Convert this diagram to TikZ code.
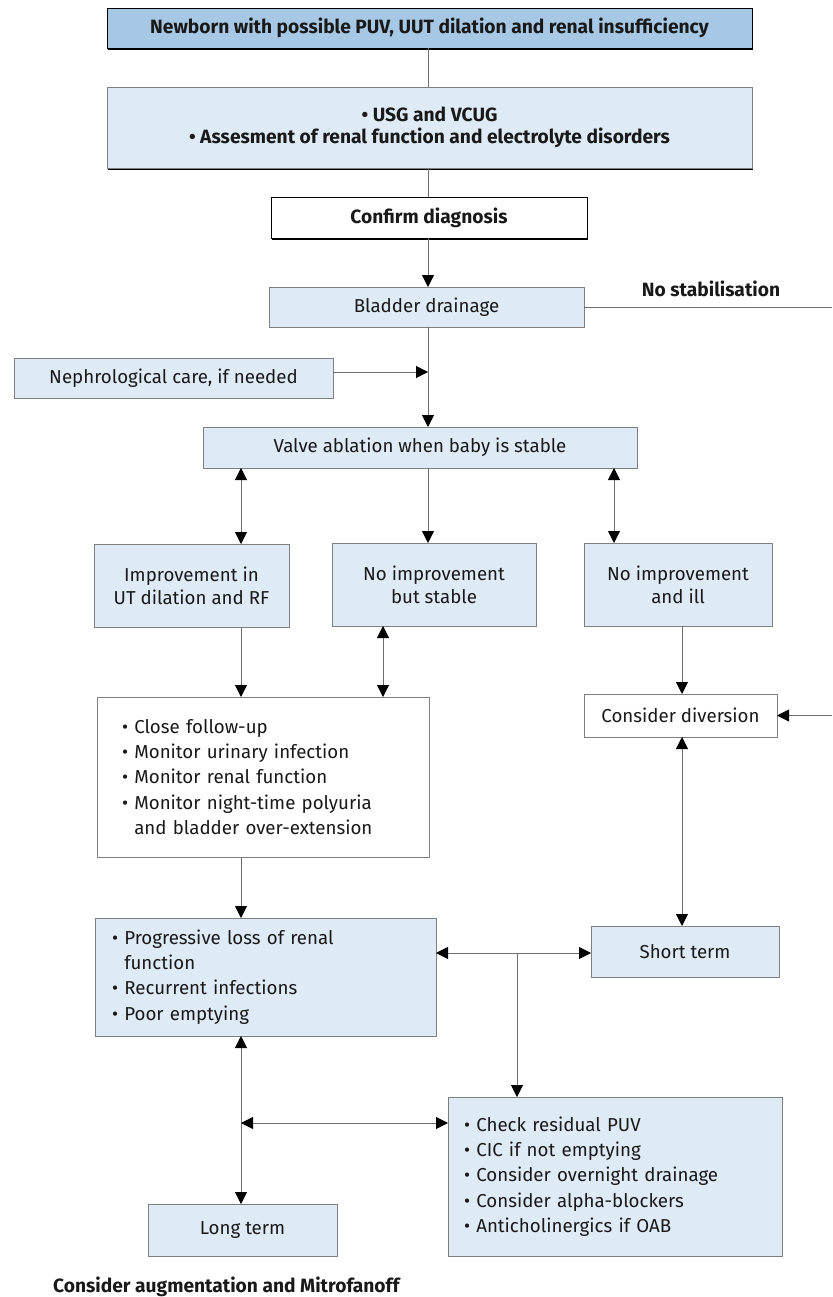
\documentclass[tikz,border=0pt]{standalone}
\usepackage{fontspec}
\setmainfont{Fira Sans}
\usetikzlibrary{shadows}
\usetikzlibrary{arrows.meta}
\usetikzlibrary{calc}

\definecolor{hdrblue}{HTML}{A7C8E4}
\definecolor{boxblue}{HTML}{DEEBF6}
\definecolor{linegray}{HTML}{6E6E6E}
\definecolor{edgegray}{HTML}{7F7F7F}

\tikzset{
  box/.style={draw=edgegray, fill=boxblue, line width=0.9pt, inner sep=0pt, outer sep=0pt,
    align=center, text=black!90, font=\fontsize{18.7}{23}\selectfont},
  wbox/.style={box, fill=white},
  hdr/.style={box, draw=black, font=\fontsize{19.2}{22}\selectfont\bfseries,
    drop shadow={shadow xshift=0.8pt, shadow yshift=-1.6pt, fill=black, opacity=1}},
  lst/.style={box, align=left, font=\fontsize{18.7}{25.3}\selectfont},
  con/.style={draw=linegray, line width=0.8pt},
  arr/.style={con, -{Triangle[length=12pt,width=12pt,color=black]}},
  darr/.style={con, {Triangle[length=12pt,width=12pt,color=black]}-{Triangle[length=12pt,width=12pt,color=black]}},
}
\newcommand{\bul}{\textbullet\ }
\newcommand{\nobul}{\phantom{\textbullet\ }}

\begin{document}
\begin{tikzpicture}[x=1pt, y=-1pt]
\useasboundingbox (0,0) rectangle (832,1297);

% columns and rows used by the connectors
\coordinate (cM) at (428,0);
\coordinate (cL) at (241,0);
\coordinate (cS) at (383,0);
\coordinate (cR) at (614,0);
\coordinate (cD) at (682,0);
\coordinate (cB) at (517,0);
\coordinate (jN) at (428,372);
\coordinate (rA) at (0,953);
\coordinate (rB) at (0,1123);
\coordinate (eA) at (832,307);
\coordinate (eB) at (832,715.5);

\node[hdr, fill=hdrblue, minimum width=645pt, minimum height=40pt] (top) at (429.5,28)
  {Newborn with possible PUV, UUT dilation and renal insufficiency};
\node[hdr, draw=edgegray, minimum width=645pt, minimum height=81pt,
  drop shadow={shadow xshift=0.6pt, shadow yshift=-1.2pt, fill=black!60, opacity=1}] (assess) at (429.5,127.5)
  {\bul USG and VCUG\\ \bul Assesment of renal function and electrolyte disorders};
\node[hdr, fill=white, minimum width=316pt, minimum height=41pt] (confirm) at (429,217.5) {Confirm diagnosis};
\node[box, minimum width=315pt, minimum height=40pt] (bladder) at (426.5,307) {Bladder drainage};
\node[font=\fontsize{19.2}{22}\selectfont\bfseries, text=black!90] (nostab) at (711,289) {No stabilisation};
\node[box, minimum width=319pt, minimum height=40pt] (neph) at (173.5,378) {Nephrological care, if needed};
\node[box, minimum width=434pt, minimum height=41pt] (valve) at (420,447.5) {Valve ablation when baby is stable};

\node[box, minimum width=195pt, minimum height=83pt] (impr) at (191.5,585.5) {Improvement in\\UT dilation and RF};
\node[box, minimum width=204pt, minimum height=83pt] (stable) at (434,584.5) {No improvement\\but stable};
\node[box, minimum width=188pt, minimum height=83pt] (ill) at (678,584.5) {No improvement\\and ill};
\node[wbox, minimum width=193pt, minimum height=43pt] (div) at (680.5,715.5) {Consider diversion};

\node[lst, fill=white, inner xsep=25pt, text width=282pt, minimum width=332pt, minimum height=160pt] (follow) at (263,777)
  {\bul Close follow-up\\ \bul Monitor urinary infection\\ \bul Monitor renal function\\
   \bul Monitor night-time polyuria\\ \nobul and bladder over-extension};
\node[lst, inner xsep=17pt, text width=307pt, minimum width=341pt, minimum height=118pt] (prog) at (265.5,977)
  {\bul Progressive loss of renal\\ \nobul function\\ \bul Recurrent infections\\ \bul Poor emptying};
\node[box, minimum width=188pt, minimum height=51pt] (short) at (685,951.5) {Short term};
\node[lst, inner xsep=16pt, text width=302pt, minimum width=334pt, minimum height=159pt] (chk) at (615,1176.5)
  {\bul Check residual PUV\\ \bul CIC if not emptying\\ \bul Consider overnight drainage\\
   \bul Consider alpha-blockers\\ \bul Anticholinergics if OAB};
\node[box, minimum width=189pt, minimum height=52pt] (long) at (242.5,1230) {Long term};
\node[anchor=west, inner sep=0pt, font=\fontsize{19.2}{22}\selectfont\bfseries, text=black!90] (aug) at (53,1287)
  {Consider augmentation and Mitrofanoff};

% connectors
\draw[con] (top.south -| cM) -- (assess.north -| cM);
\draw[con] (assess.south -| cM) -- (confirm.north -| cM);
\draw[arr] (confirm.south -| cM) -- (bladder.north -| cM);
\draw[arr] (bladder.south -| cM) -- (valve.north -| cM);
\draw[arr] (neph.east |- jN) -- (jN);
\draw[con] (bladder.east) -- (eA);
\draw[arr] (eB) -- (div.east);

\draw[darr] (valve.south -| cL) -- (impr.north -| cL);
\draw[arr] (valve.south -| cM) -- (stable.north -| cM);
\draw[darr] (valve.south -| cR) -- (ill.north -| cR);
\draw[arr] (impr.south -| cL) -- (follow.north -| cL);
\draw[darr] (stable.south -| cS) -- (follow.north -| cS);
\draw[arr] (ill.south -| cD) -- (div.north -| cD);
\draw[darr] (div.south -| cD) -- (short.north -| cD);

\draw[arr] (follow.south -| cL) -- (prog.north -| cL);
\draw[darr] (prog.east |- rA) -- (short.west |- rA);
\draw[arr] (rA -| cB) -- (chk.north -| cB);
\draw[darr] (prog.south -| cL) -- (long.north -| cL);
\draw[darr] (rB -| cL) -- (chk.west |- rB);
\end{tikzpicture}
\end{document}
